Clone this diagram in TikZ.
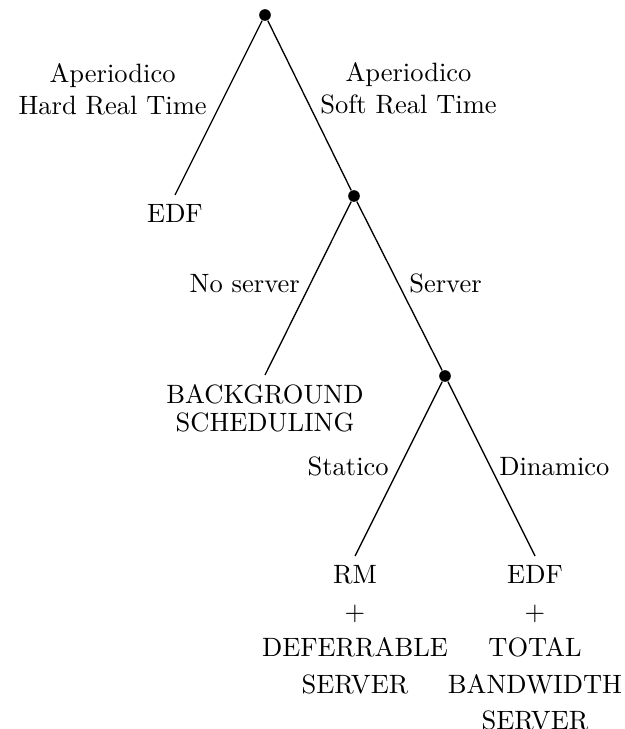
\documentclass[tikz,border=0pt]{standalone}
\begin{document}
\begin{tikzpicture}[x=0.3774pt,y=-0.3774pt,
  dot/.style={circle,fill=black,inner sep=0pt,minimum size=4.4pt},
  leaf/.style={anchor=north,align=center,inner sep=3.33pt},
  lbl/.style={align=center,inner sep=3.33pt},
  branch/.style={line width=0.5pt}]
\useasboundingbox (0,0) rectangle (624,729);
% branching points
\node[dot] (r) at (265,15) {};
\node[dot] (a) at (354,196) {};
\node[dot] (b) at (445,376) {};
% leaves
\node[leaf] (edf1) at (175,195) {EDF};
\node[leaf,font=\fontsize{10pt}{10.6pt}\selectfont] (bg) at (265,375) {BACKGROUND\\SCHEDULING};
\node[leaf,font=\fontsize{10pt}{13.8pt}\selectfont] (rm) at (355,556) {RM\\$+$\\DEFERRABLE\\SERVER};
\node[leaf,font=\fontsize{10pt}{13.8pt}\selectfont] (edf2) at (535,556) {EDF\\$+$\\TOTAL\\BANDWIDTH\\SERVER};
% branches
\draw[branch] (r) -- (edf1.north);
\draw[branch] (r) -- (a);
\draw[branch] (a) -- (bg.north);
\draw[branch] (a) -- (b);
\draw[branch] (b) -- (rm.north);
\draw[branch] (b) -- (edf2.north);
% branch labels
\node[lbl,anchor=east] (l1) at (216,89) {Aperiodico\\Hard Real Time};
\node[lbl,anchor=west] (l2) at (311,88) {Aperiodico\\Soft Real Time};
\node[lbl,anchor=base east] (l3) at (309,293) {No server};
\node[lbl,anchor=base west] (l4) at (400,293) {Server};
\node[lbl,anchor=base east] (l5) at (398,475) {Statico};
\node[lbl,anchor=base west] (l6) at (490,475) {Dinamico};
\end{tikzpicture}
\end{document}
